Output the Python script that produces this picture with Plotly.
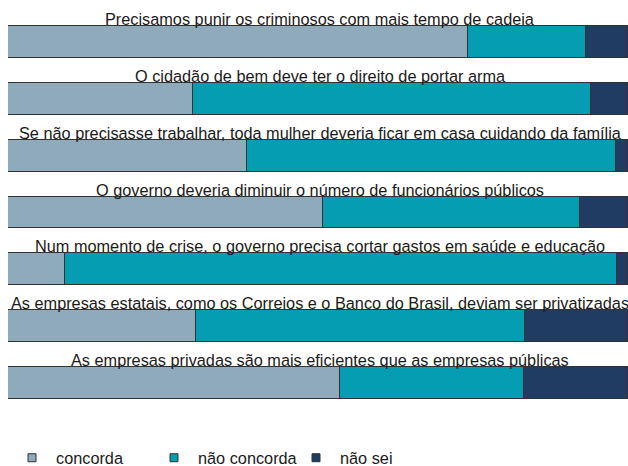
import plotly.graph_objects as go

questions = [
    "Precisamos punir os criminosos com mais tempo de cadeia",
    "O cidadão de bem deve ter o direito de portar arma",
    "Se não precisasse trabalhar, toda mulher deveria ficar em casa cuidando da família",
    "O governo deveria diminuir o número de funcionários públicos",
    "Num momento de crise, o governo precisa cortar gastos em saúde e educação",
    "As empresas estatais, como os Correios e o Banco do Brasil, deviam ser privatizadas",
    "As empresas privadas são mais eficientes que as empresas públicas",
]
concorda = [74.2, 29.9, 38.5, 50.8, 9.2, 30.3, 53.5]
nao_concorda = [19.1, 64.1, 59.5, 41.4, 89.0, 53.1, 29.7]
nao_sei = [6.7, 6.0, 2.0, 7.8, 1.8, 16.6, 16.8]

series_names = ["concorda", "não concorda", "não sei"]
series_values = [concorda, nao_concorda, nao_sei]
colors = ["#8eaabb", "#059db1", "#203c62"]

FONT = "Liberation Sans, Arial, Helvetica, sans-serif"
TXT = "#1a1a1a"

ypos = list(range(len(questions)))
fig = go.Figure()
for name, vals, col in zip(series_names, series_values, colors):
    fig.add_trace(go.Bar(
        x=vals, y=ypos, orientation="h", name=name,
        marker=dict(color=col, line=dict(color="#333333", width=1)),
        width=0.56, showlegend=False, hoverinfo="x+name",
    ))
for name, col in zip(series_names, colors):
    fig.add_trace(go.Scatter(
        x=[None], y=[None], mode="markers", name=name,
        marker=dict(symbol="square", size=8, color=col,
                    line=dict(color="#333333", width=1)),
        showlegend=True,
    ))

for i, q in enumerate(questions):
    fig.add_annotation(
        x=50, y=i - 0.28, xref="x", yref="y", text=q, showarrow=False,
        xanchor="center", yanchor="bottom", yshift=-4, xshift=2,
        font=dict(family=FONT, size=16.3, color=TXT),
    )

fig.update_layout(
    barmode="stack",
    width=628, height=480,
    margin=dict(l=8, r=0, t=14, b=69),
    paper_bgcolor="white", plot_bgcolor="white",
    font=dict(family=FONT, size=16.3, color=TXT),
    xaxis=dict(range=[0, 100], visible=False, fixedrange=True),
    yaxis=dict(range=[6.5, -0.5], visible=False, fixedrange=True),
    legend=dict(
        orientation="h", x=0, xanchor="left", y=-0.1187, yanchor="middle",
        traceorder="normal",
        itemwidth=38, entrywidth=89, entrywidthmode="pixels",
        font=dict(family=FONT, size=16.3, color=TXT),
        bgcolor="rgba(0,0,0,0)",
    ),
    bargap=0,
)

post = ("document.body.style.margin='0';"
        "document.documentElement.style.overflow='hidden';"
        "document.body.style.overflow='hidden';")
fig.write_html("out.html", post_script=post,
               config={"displayModeBar": False})
